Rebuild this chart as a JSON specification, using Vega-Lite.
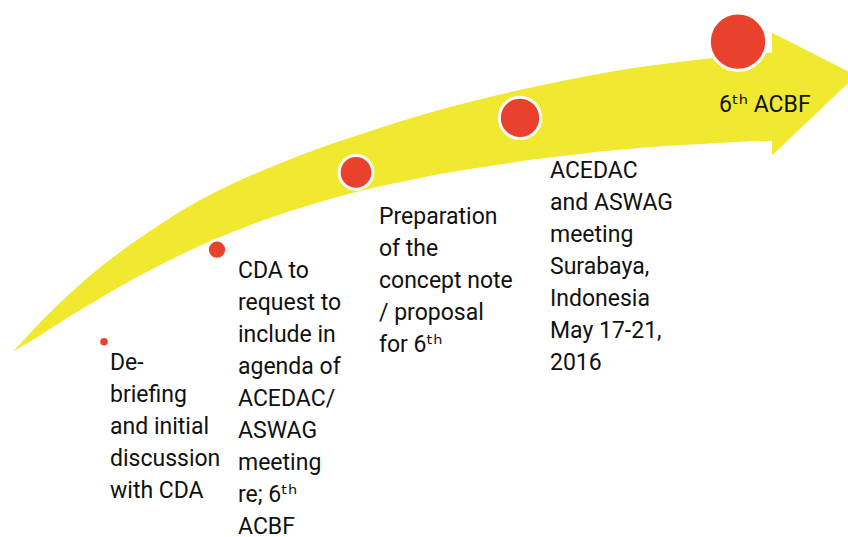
{
  "$schema": "https://vega.github.io/schema/vega-lite/v6.json",
  "width": 848,
  "height": 537,
  "autosize": {"type": "fit", "contains": "padding"},
  "padding": 0,
  "background": "white",
  "config": {"view": {"stroke": null}},
  "datasets": {
    "body": [
      {"x": 13, "top": 355, "bottom": 355},
      {"x": 33, "top": 333, "bottom": 343},
      {"x": 67, "top": 299, "bottom": 321},
      {"x": 100, "top": 270, "bottom": 301},
      {"x": 133, "top": 245, "bottom": 282},
      {"x": 167, "top": 222, "bottom": 264},
      {"x": 200, "top": 202, "bottom": 248},
      {"x": 233, "top": 185.3, "bottom": 234},
      {"x": 267, "top": 170.3, "bottom": 221},
      {"x": 300, "top": 157, "bottom": 210},
      {"x": 333, "top": 144.7, "bottom": 200},
      {"x": 367, "top": 133.4, "bottom": 191},
      {"x": 400, "top": 122.7, "bottom": 184},
      {"x": 433, "top": 112.7, "bottom": 177},
      {"x": 467, "top": 103.7, "bottom": 171},
      {"x": 500, "top": 95.4, "bottom": 166},
      {"x": 533, "top": 87.7, "bottom": 161},
      {"x": 567, "top": 80.7, "bottom": 157},
      {"x": 600, "top": 74.4, "bottom": 153},
      {"x": 633, "top": 68.7, "bottom": 150},
      {"x": 667, "top": 64, "bottom": 147},
      {"x": 707, "top": 59.2, "bottom": 145},
      {"x": 740, "top": 56, "bottom": 143},
      {"x": 775, "top": 53, "bottom": 142}
    ],
    "head": [
      {"x": 772, "top": 33, "bottom": 157},
      {"x": 848, "top": 72, "bottom": 84}
    ],
    "dots": [
      {"step": 1, "x": 104, "y": 345},
      {"step": 2, "x": 217, "y": 252},
      {"step": 3, "x": 356, "y": 174},
      {"step": 4, "x": 520, "y": 119},
      {"step": 5, "x": 738, "y": 42}
    ],
    "labels": [
      {"x": 110, "y": 373, "label": "De-\nbriefing\nand initial\ndiscussion\nwith CDA"},
      {"x": 238, "y": 281, "label": "CDA to\nrequest to\ninclude in\nagenda of\nACEDAC/\nASWAG\nmeeting\nre; 6ᵗʰ\nACBF"},
      {"x": 379, "y": 226, "label": "Preparation\nof the\nconcept note\n/ proposal\nfor 6ᵗʰ"},
      {"x": 550, "y": 180, "label": "ACEDAC\nand ASWAG\nmeeting\nSurabaya,\nIndonesia\nMay 17-21,\n2016"},
      {"x": 719, "y": 113, "label": "6ᵗʰ ACBF"}
    ]
  },
  "layer": [
    {
      "data": {"name": "body"},
      "mark": {"type": "area", "color": "#f1e92f", "interpolate": "monotone"},
      "encoding": {
        "x": {"field": "x", "type": "quantitative", "scale": {"domain": [0, 848], "nice": false, "zero": false}, "axis": null},
        "y": {"field": "top", "type": "quantitative", "scale": {"domain": [0, 537], "reverse": true, "nice": false, "zero": false}, "axis": null},
        "y2": {"field": "bottom"}
      }
    },
    {
      "data": {"name": "head"},
      "mark": {"type": "area", "color": "#f1e92f"},
      "encoding": {
        "x": {"field": "x", "type": "quantitative"},
        "y": {"field": "top", "type": "quantitative"},
        "y2": {"field": "bottom"}
      }
    },
    {
      "data": {"name": "dots"},
      "mark": {"type": "point", "shape": "circle", "filled": true, "fill": "#e9412b", "stroke": "white", "strokeWidth": 3, "opacity": 1},
      "encoding": {
        "x": {"field": "x", "type": "quantitative"},
        "y": {"field": "y", "type": "quantitative"},
        "size": {"field": "step", "type": "quantitative", "scale": {"type": "linear", "domain": [1, 2, 3, 4, 5], "range": [110, 370, 1134, 1710, 3290], "zero": false, "nice": false}, "legend": null}
      }
    },
    {
      "data": {"name": "labels"},
      "mark": {"type": "text", "align": "left", "baseline": "alphabetic", "font": "Roboto, 'DejaVu Sans'", "fontSize": 23, "lineHeight": 32, "lineBreak": "\n", "color": "#111111"},
      "encoding": {
        "x": {"field": "x", "type": "quantitative"},
        "y": {"field": "y", "type": "quantitative"},
        "text": {"field": "label", "type": "nominal"}
      }
    }
  ]
}
